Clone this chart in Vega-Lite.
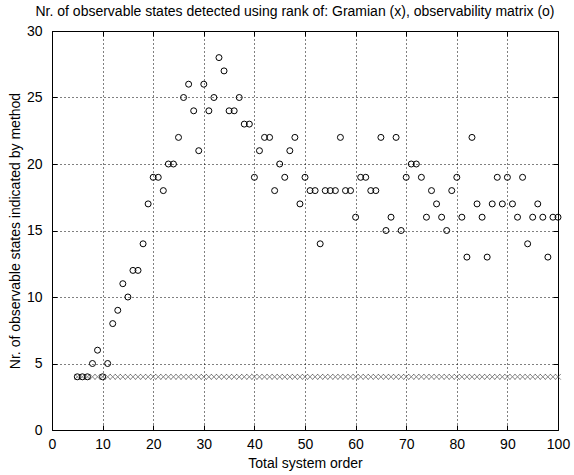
{
  "$schema": "https://vega.github.io/schema/vega-lite/v6.json",
  "width": 506,
  "height": 399,
  "autosize": {"type": "none"},
  "padding": {"left": 52, "top": 31, "right": 16, "bottom": 45},
  "background": "white",
  "config": {
    "font": "Liberation Sans",
    "view": {"stroke": "black", "strokeWidth": 1},
    "axis": {
      "labelFont": "Liberation Sans",
      "titleFont": "Liberation Sans",
      "labelFontSize": 14,
      "titleFontSize": 14,
      "titleFontWeight": "normal",
      "labelColor": "black",
      "titleColor": "black",
      "domainColor": "black",
      "tickColor": "black",
      "gridColor": "black",
      "gridDash": [1, 3],
      "gridOpacity": 1,
      "gridWidth": 1
    }
  },
  "title": {
    "text": "Nr. of observable states detected using rank of: Gramian (x), observability matrix (o)",
    "font": "Liberation Sans",
    "fontSize": 14,
    "fontWeight": "normal",
    "color": "black",
    "offset": 5,
    "dx": -10
  },
  "datasets": {
    "obs": [
      {"n": 5, "states": 4}, {"n": 6, "states": 4}, {"n": 7, "states": 4}, {"n": 8, "states": 5},
      {"n": 9, "states": 6}, {"n": 10, "states": 4}, {"n": 11, "states": 5}, {"n": 12, "states": 8},
      {"n": 13, "states": 9}, {"n": 14, "states": 11}, {"n": 15, "states": 10}, {"n": 16, "states": 12},
      {"n": 17, "states": 12}, {"n": 18, "states": 14}, {"n": 19, "states": 17}, {"n": 20, "states": 19},
      {"n": 21, "states": 19}, {"n": 22, "states": 18}, {"n": 23, "states": 20}, {"n": 24, "states": 20},
      {"n": 25, "states": 22}, {"n": 26, "states": 25}, {"n": 27, "states": 26}, {"n": 28, "states": 24},
      {"n": 29, "states": 21}, {"n": 30, "states": 26}, {"n": 31, "states": 24}, {"n": 32, "states": 25},
      {"n": 33, "states": 28}, {"n": 34, "states": 27}, {"n": 35, "states": 24}, {"n": 36, "states": 24},
      {"n": 37, "states": 25}, {"n": 38, "states": 23}, {"n": 39, "states": 23}, {"n": 40, "states": 19},
      {"n": 41, "states": 21}, {"n": 42, "states": 22}, {"n": 43, "states": 22}, {"n": 44, "states": 18},
      {"n": 45, "states": 20}, {"n": 46, "states": 19}, {"n": 47, "states": 21}, {"n": 48, "states": 22},
      {"n": 49, "states": 17}, {"n": 50, "states": 19}, {"n": 51, "states": 18}, {"n": 52, "states": 18},
      {"n": 53, "states": 14}, {"n": 54, "states": 18}, {"n": 55, "states": 18}, {"n": 56, "states": 18},
      {"n": 57, "states": 22}, {"n": 58, "states": 18}, {"n": 59, "states": 18}, {"n": 60, "states": 16},
      {"n": 61, "states": 19}, {"n": 62, "states": 19}, {"n": 63, "states": 18}, {"n": 64, "states": 18},
      {"n": 65, "states": 22}, {"n": 66, "states": 15}, {"n": 67, "states": 16}, {"n": 68, "states": 22},
      {"n": 69, "states": 15}, {"n": 70, "states": 19}, {"n": 71, "states": 20}, {"n": 72, "states": 20},
      {"n": 73, "states": 19}, {"n": 74, "states": 16}, {"n": 75, "states": 18}, {"n": 76, "states": 17},
      {"n": 77, "states": 16}, {"n": 78, "states": 15}, {"n": 79, "states": 18}, {"n": 80, "states": 19},
      {"n": 81, "states": 16}, {"n": 82, "states": 13}, {"n": 83, "states": 22}, {"n": 84, "states": 17},
      {"n": 85, "states": 16}, {"n": 86, "states": 13}, {"n": 87, "states": 17}, {"n": 88, "states": 19},
      {"n": 89, "states": 17}, {"n": 90, "states": 19}, {"n": 91, "states": 17}, {"n": 92, "states": 16},
      {"n": 93, "states": 19}, {"n": 94, "states": 14}, {"n": 95, "states": 16}, {"n": 96, "states": 17},
      {"n": 97, "states": 16}, {"n": 98, "states": 13}, {"n": 99, "states": 16}, {"n": 100, "states": 16}
    ],
    "gram": [
      {"n": 5, "states": 4}, {"n": 6, "states": 4}, {"n": 7, "states": 4}, {"n": 8, "states": 4},
      {"n": 9, "states": 4}, {"n": 10, "states": 4}, {"n": 11, "states": 4}, {"n": 12, "states": 4},
      {"n": 13, "states": 4}, {"n": 14, "states": 4}, {"n": 15, "states": 4}, {"n": 16, "states": 4},
      {"n": 17, "states": 4}, {"n": 18, "states": 4}, {"n": 19, "states": 4}, {"n": 20, "states": 4},
      {"n": 21, "states": 4}, {"n": 22, "states": 4}, {"n": 23, "states": 4}, {"n": 24, "states": 4},
      {"n": 25, "states": 4}, {"n": 26, "states": 4}, {"n": 27, "states": 4}, {"n": 28, "states": 4},
      {"n": 29, "states": 4}, {"n": 30, "states": 4}, {"n": 31, "states": 4}, {"n": 32, "states": 4},
      {"n": 33, "states": 4}, {"n": 34, "states": 4}, {"n": 35, "states": 4}, {"n": 36, "states": 4},
      {"n": 37, "states": 4}, {"n": 38, "states": 4}, {"n": 39, "states": 4}, {"n": 40, "states": 4},
      {"n": 41, "states": 4}, {"n": 42, "states": 4}, {"n": 43, "states": 4}, {"n": 44, "states": 4},
      {"n": 45, "states": 4}, {"n": 46, "states": 4}, {"n": 47, "states": 4}, {"n": 48, "states": 4},
      {"n": 49, "states": 4}, {"n": 50, "states": 4}, {"n": 51, "states": 4}, {"n": 52, "states": 4},
      {"n": 53, "states": 4}, {"n": 54, "states": 4}, {"n": 55, "states": 4}, {"n": 56, "states": 4},
      {"n": 57, "states": 4}, {"n": 58, "states": 4}, {"n": 59, "states": 4}, {"n": 60, "states": 4},
      {"n": 61, "states": 4}, {"n": 62, "states": 4}, {"n": 63, "states": 4}, {"n": 64, "states": 4},
      {"n": 65, "states": 4}, {"n": 66, "states": 4}, {"n": 67, "states": 4}, {"n": 68, "states": 4},
      {"n": 69, "states": 4}, {"n": 70, "states": 4}, {"n": 71, "states": 4}, {"n": 72, "states": 4},
      {"n": 73, "states": 4}, {"n": 74, "states": 4}, {"n": 75, "states": 4}, {"n": 76, "states": 4},
      {"n": 77, "states": 4}, {"n": 78, "states": 4}, {"n": 79, "states": 4}, {"n": 80, "states": 4},
      {"n": 81, "states": 4}, {"n": 82, "states": 4}, {"n": 83, "states": 4}, {"n": 84, "states": 4},
      {"n": 85, "states": 4}, {"n": 86, "states": 4}, {"n": 87, "states": 4}, {"n": 88, "states": 4},
      {"n": 89, "states": 4}, {"n": 90, "states": 4}, {"n": 91, "states": 4}, {"n": 92, "states": 4},
      {"n": 93, "states": 4}, {"n": 94, "states": 4}, {"n": 95, "states": 4}, {"n": 96, "states": 4},
      {"n": 97, "states": 4}, {"n": 98, "states": 4}, {"n": 99, "states": 4}, {"n": 100, "states": 4}
    ]
  },
  "resolve": {"axis": {"x": "independent", "y": "independent"}},
  "layer": [
    {
      "data": {"name": "gram"},
      "mark": {"type": "point", "shape": "M-1,-1L1,1M-1,1L1,-1", "size": 32, "stroke": "#505050", "strokeWidth": 1, "filled": false},
      "encoding": {
        "x": {
          "field": "n", "type": "quantitative",
          "scale": {"domain": [0, 100], "nice": false, "zero": false},
          "axis": {
            "orient": "bottom", "values": [0, 10, 20, 30, 40, 50, 60, 70, 80, 90, 100],
            "grid": true, "domain": false, "tickSize": -5, "labelPadding": 12,
            "title": "Total system order", "titlePadding": 5, "labelFlush": false
          }
        },
        "y": {
          "field": "states", "type": "quantitative",
          "scale": {"domain": [0, 30], "nice": false},
          "axis": {
            "orient": "left", "values": [0, 5, 10, 15, 20, 25, 30],
            "grid": true, "domain": false, "tickSize": -5, "labelPadding": 15,
            "title": "Nr. of observable states indicated by method", "titlePadding": 4, "labelFlush": false
          }
        }
      }
    },
    {
      "data": {"name": "obs"},
      "mark": {"type": "point", "shape": "circle", "size": 36, "stroke": "black", "strokeWidth": 1, "filled": false, "opacity": 1},
      "encoding": {
        "x": {
          "field": "n", "type": "quantitative",
          "axis": {
            "orient": "top", "values": [0, 10, 20, 30, 40, 50, 60, 70, 80, 90, 100],
            "grid": false, "domain": false, "labels": false, "tickSize": -5, "title": null
          }
        },
        "y": {
          "field": "states", "type": "quantitative",
          "axis": {
            "orient": "right", "values": [0, 5, 10, 15, 20, 25, 30],
            "grid": false, "domain": false, "labels": false, "tickSize": -5, "title": null
          }
        }
      }
    }
  ]
}
